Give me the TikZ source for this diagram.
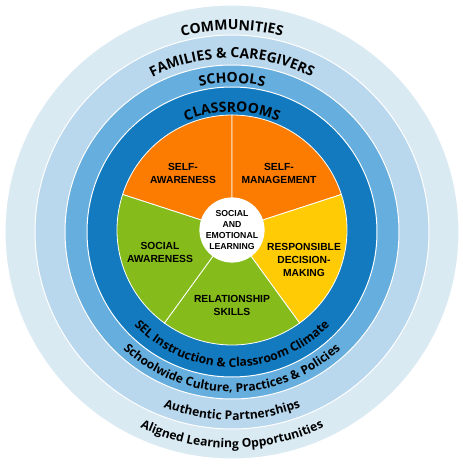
\documentclass[tikz,border=0pt]{standalone}
\usepackage{fontspec}
\setmainfont{Liberation Sans}
\newfontfamily\ringfont{Open Sans}
\usetikzlibrary{decorations.text}
\definecolor{commblue}{HTML}{D9EAF3}
\definecolor{famblue}{HTML}{B9D8EE}
\definecolor{schoolblue}{HTML}{66AEDD}
\definecolor{classblue}{HTML}{137ABF}
\definecolor{selorange}{HTML}{FB7C00}
\definecolor{selyellow}{HTML}{FFCB05}
\definecolor{selgreen}{HTML}{85BC1B}
\newcommand\ringcaps{\ringfont\bfseries\fontsize{14}{14}\selectfont}
\newcommand\ringsmall{\ringfont\bfseries\fontsize{12.1}{12.1}\selectfont}
\begin{document}
\begin{tikzpicture}[x=1pt,y=1pt, every node/.style={font=\bfseries\fontsize{10.3}{13}\selectfont,align=center},
  ring/.style={draw=white,line width=1pt},
  slice/.style={draw=white,line width=0.8pt},
  arclabel/.style={decorate,decoration={text along path,text align=center,text={#1}}}]
\useasboundingbox (-232,-232) rectangle (231,232);
% rings, outside in
\filldraw[fill=commblue,ring] (0,0) circle (227);
\filldraw[fill=famblue,ring] (0,0) circle (197);
\filldraw[fill=schoolblue,ring] (0,0) circle (167);
\filldraw[fill=classblue,ring] (0,0) circle (145);
% five competencies
\coordinate (pie) at (0,2);
\foreach \a/\b/\c in {90/162/selorange, 18/90/selorange, -54/18/selyellow, -126/-54/selgreen, -198/-126/selgreen}
  \filldraw[fill=\c,slice] (pie) -- ++(\a:115) arc[start angle=\a,end angle=\b,radius=115] -- cycle;
\node[circle,fill=white,minimum size=58pt,inner sep=0pt,font=\bfseries\fontsize{8.7}{11}\selectfont] (sel) at (0,2) {SOCIAL\\AND\\EMOTIONAL\\LEARNING};
\node (saw) at (-49,59) {SELF-\\AWARENESS};
\node (smg) at (47,59) {SELF-\\MANAGEMENT};
\node (soc) at (-72,-20) {SOCIAL\\AWARENESS};
\node (rdm) at (72,-28) {RESPONSIBLE\\DECISION-\\MAKING};
\node (rel) at (0,-73) {RELATIONSHIP\\SKILLS};
% ring labels
\path[arclabel={|\ringcaps|COMMUNITIES}] (180:202) arc[start angle=180,end angle=0,radius=202];
\path[arclabel={|\ringcaps|FAMILIES {\&} CAREGIVERS}] (180:174) arc[start angle=180,end angle=0,radius=174];
\path[arclabel={|\ringcaps|SCHOOLS}] (180:149) arc[start angle=180,end angle=0,radius=149];
\path[arclabel={|\ringcaps|CLASSROOMS}] (180:120) arc[start angle=180,end angle=0,radius=120];
\path[arclabel={|\ringsmall|SEL Instruction {\&} Classroom Climate}] (180:135) arc[start angle=180,end angle=360,radius=135];
\path[arclabel={|\ringsmall|Schoolwide Culture, Practices {\&} Policies}] (180:160) arc[start angle=180,end angle=360,radius=160];
\path[arclabel={|\ringsmall|Authentic Partnerships}] (180:188) arc[start angle=180,end angle=360,radius=188];
\path[arclabel={|\ringsmall|Aligned Learning Opportunities}] (180:216) arc[start angle=180,end angle=360,radius=216];
\end{tikzpicture}
\end{document}
